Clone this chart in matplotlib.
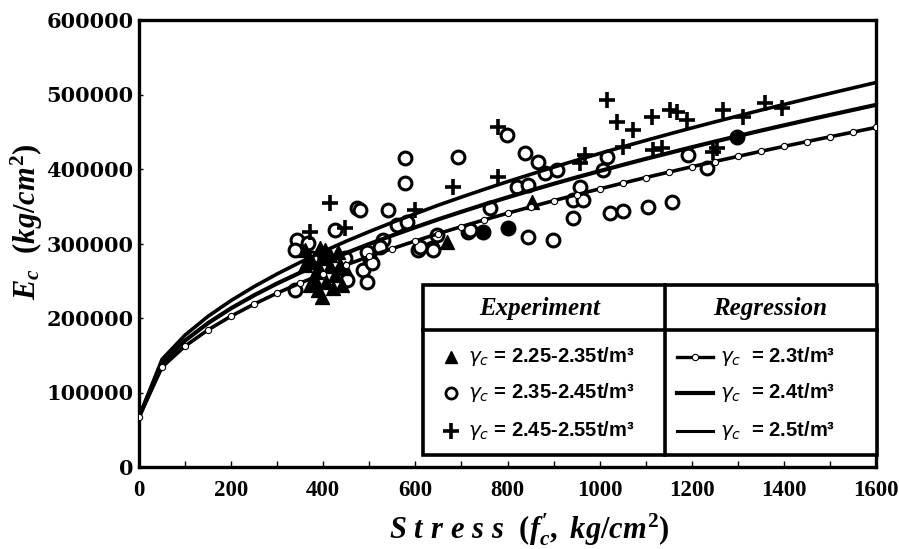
import matplotlib
matplotlib.use('Agg')
import matplotlib.pyplot as plt
from matplotlib.patches import Rectangle
from matplotlib.lines import Line2D

# regression curves (one point every 50 kg/cm2)
fc_curve = list(range(0, 1601, 50))
ec_23 = [67000, 134100, 162300, 184100, 202500, 218700, 233400, 246900, 259500, 271400, 282600,
         293200, 303400, 313300, 322700, 331800, 340600, 349100, 357400, 365500, 373300, 381000,
         388500, 395800, 403000, 410000, 416900, 423700, 430300, 436800, 443200, 449500, 455800]
ec_24 = [67000, 139300, 169700, 193200, 213100, 230500, 246400, 260900, 274500, 287300, 299400,
         310800, 321800, 332500, 342600, 352500, 361900, 371100, 380100, 388800, 397200, 405500,
         413600, 421400, 429200, 436800, 444200, 451500, 458600, 465600, 472500, 479300, 486100]
ec_25 = [67000, 144500, 177100, 202300, 223500, 242200, 259200, 274800, 289300, 303100, 316000,
         328300, 340000, 351500, 362300, 372800, 383000, 392800, 402400, 411800, 420800, 429700,
         438300, 446800, 455100, 463200, 471100, 479000, 486600, 494100, 501500, 508800, 516100]

# experiment: gamma 2.25-2.35 (triangles)
fc_tri = [397, 853, 669, 371, 393, 415, 382, 426, 404, 436, 360, 389,
          376, 397, 415, 432, 384, 406, 447, 360, 421, 393, 441, 371]
ec_tri = [228000, 355600, 302000, 277800, 264400, 284500, 251000, 257700, 291200, 271100, 291200, 237500,
          275100, 280500, 269700, 288500, 261700, 248300, 267100, 271100, 240200, 293900, 244200, 244200]

# experiment: gamma 2.35-2.45 (open circles)
fc_cir = [577, 693, 577, 473, 480, 541, 343, 339, 426, 502, 486, 452, 495, 339, 636, 714, 530, 367,
          506, 495, 523, 560, 582, 606, 638, 647, 762, 799, 838, 866, 881, 908, 957, 942, 964, 1016,
          1007, 1192, 1233, 942, 1023, 1051, 1105, 1157, 845, 899, 821, 845, 610, 719, 376, 447, 404]
ec_cir = [414700, 416000, 381100, 347800, 344900, 344900, 304600, 291200, 318100, 277800, 264400,
          251000, 248300, 237500, 293900, 315400, 304600, 300600, 273800, 288500, 295200, 324800,
          328800, 291200, 291200, 311300, 347600, 445500, 421400, 409300, 394500, 398600, 375800,
          358300, 358300, 416000, 398600, 418700, 401300, 334200, 340900, 343600, 348900, 355600,
          308700, 304600, 375800, 378400, 295200, 318100, 280500, 280500, 271100]

# experiment: gamma 2.45-2.55 (crosses)
fc_plus = [415, 371, 682, 779, 779, 1016, 1038, 1073, 1114, 1153, 1168, 1190, 1268, 1311, 1359,
           1396, 1051, 1116, 1135, 1246, 1255, 968, 957, 447, 599]
ec_plus = [354300, 315400, 375800, 389200, 456300, 492500, 463000, 452300, 469700, 479100, 476400,
           465700, 479100, 469700, 488500, 481800, 429400, 425400, 428100, 422700, 428100, 418700,
           408000, 320700, 344900]

# filled circles printed in the scan
fc_dot = [801, 747, 1298]
ec_dot = [320700, 315400, 442900]

exp_labels = [r'$\gamma_c$ = 2.25-2.35t/m³', r'$\gamma_c$ = 2.35-2.45t/m³', r'$\gamma_c$ = 2.45-2.55t/m³']
reg_labels = [r'$\gamma_c$  = 2.3t/m³', r'$\gamma_c$  = 2.4t/m³', r'$\gamma_c$  = 2.5t/m³']

plt.rcParams['mathtext.fontset'] = 'custom'
plt.rcParams['mathtext.it'] = 'Liberation Serif:italic:bold'
plt.rcParams['mathtext.rm'] = 'Liberation Serif:bold'
plt.rcParams['mathtext.bf'] = 'Liberation Serif:bold'

W, H = 899, 549
fig = plt.figure(figsize=(W / 100, H / 100), dpi=100)
ax = fig.add_axes([139 / W, 1 - 467 / H, 737 / W, 447 / H])


def px(x, y):
    return x / W, 1 - y / H


# scatter
ax.scatter(fc_cir, ec_cir, s=85, facecolors='white', edgecolors='black', linewidths=2.2, zorder=2)
ax.scatter(fc_tri, ec_tri, s=100, marker='^', color='black', zorder=2)
ax.scatter(fc_plus, ec_plus, s=140, marker='+', color='black', linewidths=2.6, zorder=2)
ax.scatter(fc_dot, ec_dot, s=110, color='black', zorder=2)

# regression lines
ax.plot(fc_curve, ec_25, color='black', lw=2.6, zorder=3)
ax.plot(fc_curve, ec_24, color='black', lw=3.0, zorder=3)
ax.plot(fc_curve, ec_23, color='black', lw=2.6, marker='o', ms=4.5, mfc='white', mec='black',
        mew=0.8, zorder=3)

ax.set_xlim(0, 1600)
ax.set_ylim(0, 600000)
ax.set_xticks(range(0, 1601, 200))
ax.set_yticks(range(0, 600001, 100000))
ax.set_xticks(range(0, 1601, 100), minor=True)
for s in ax.spines.values():
    s.set_linewidth(2.4)
ax.tick_params(axis='x', which='both', direction='in', length=4, width=1, pad=9)
ax.tick_params(axis='y', direction='in', length=3, width=1, pad=4)
for t in ax.get_xticklabels():
    t.set_fontfamily('Liberation Serif')
    t.set_fontweight('bold')
    t.set_fontsize(16.5)
for t in ax.get_yticklabels():
    t.set_fontfamily('DejaVu Serif')
    t.set_fontweight('bold')
    t.set_fontsize(15)

ax.set_xlabel(r"$S\ t\ r\ e\ s\ s\ \ (f_c',\ kg/cm^2)$", fontsize=22)
ax.set_ylabel(r"$E_c\ \ (kg/cm^2)$", fontsize=22)
ax.xaxis.set_label_coords(0.529, -0.098)
ax.yaxis.set_label_coords(-0.128, 0.548)

# legend table
x0, y0 = px(423, 455)
x1, y1 = px(877, 285)
fig.add_artist(Rectangle((x0, y0), x1 - x0, y1 - y0, transform=fig.transFigure,
                         facecolor='white', edgecolor='black', lw=2.6, zorder=5))
fig.add_artist(Line2D([665 / W, 665 / W], [y0, y1], color='black', lw=2.6, zorder=6))
fig.add_artist(Line2D([x0, x1], [1 - 330 / H] * 2, color='black', lw=2.6, zorder=6))

fig.text(*px(540, 308), 'Experiment', family='Liberation Serif', weight='bold', style='italic',
         fontsize=18, ha='center', va='center', zorder=7)
fig.text(*px(770, 308), 'Regression', family='Liberation Serif', weight='bold', style='italic',
         fontsize=18, ha='center', va='center', zorder=7)

rows = [357, 393, 431]
exp_markers = [dict(marker='^', ms=9, color='black'),
               dict(marker='o', ms=8, mfc='white', mec='black', mew=2.0),
               dict(marker='+', ms=11, color='black', mew=2.6)]
for yy, lab, mk in zip(rows, exp_labels, exp_markers):
    fig.add_artist(Line2D([451 / W], [1 - yy / H], ls='none', zorder=7, **mk))
    fig.text(*px(468, yy), lab, family='Liberation Sans', weight='bold', fontsize=14.5,
             ha='left', va='center', math_fontfamily='dejavusans', zorder=7)

reg_styles = [dict(lw=2.4, marker='o', ms=4.5, mfc='white', mec='black', mew=0.8, markevery=[1]),
              dict(lw=3.0),
              dict(lw=2.2)]
for yy, lab, st in zip(rows, reg_labels, reg_styles):
    fig.add_artist(Line2D([677 / W, 695 / W, 713 / W], [1 - yy / H] * 3, color='black',
                          zorder=7, **st))
    fig.text(*px(720, yy), lab, family='Liberation Sans', weight='bold', fontsize=14.5,
             ha='left', va='center', math_fontfamily='dejavusans', zorder=7)

fig.savefig('out.png', dpi=100)
